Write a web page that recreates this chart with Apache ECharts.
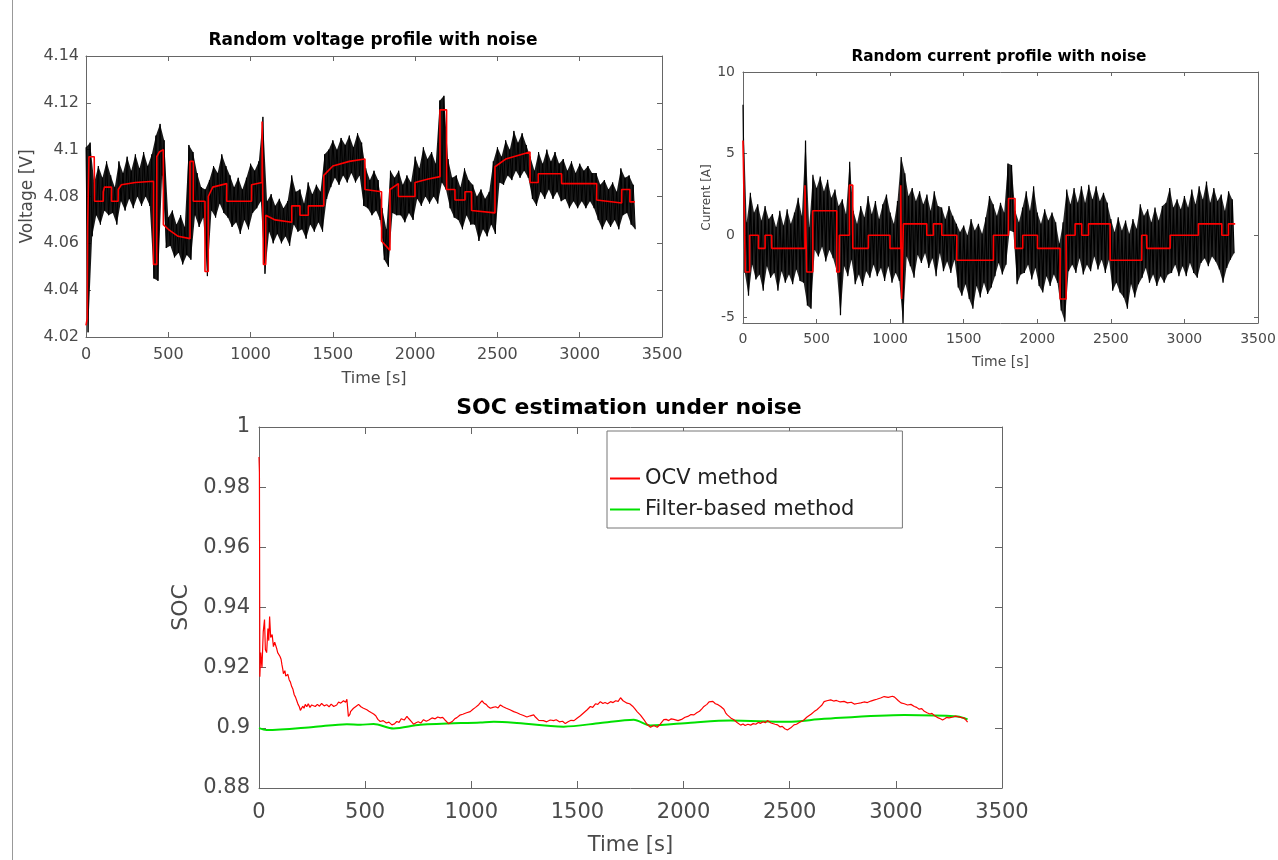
<!DOCTYPE html>
<html>
<head>
<meta charset="utf-8">
<title>Noise profiles and SOC estimation</title>
<script src="https://cdn.jsdelivr.net/npm/echarts@6/dist/echarts.min.js"></script>
<style>
    html, body { margin: 0; padding: 0; background: #fff; }
    #chart { width: 1278px; height: 860px; }
</style>
</head>
<body>
<div id="chart"></div>
<script>
    // noise envelopes are read every 25 s (upper / lower edge of the black trace)
    const noiseStep = 25;

    const voltHi = [
        4.101, 4.103, 4.086, 4.093, 4.088, 4.095, 4.089, 4.084, 4.095, 4.090,
        4.097, 4.091, 4.098, 4.092, 4.099, 4.093, 4.098, 4.106, 4.111, 4.104,
        4.071, 4.074, 4.068, 4.072, 4.067, 4.102, 4.099, 4.090, 4.084, 4.083,
        4.087, 4.093, 4.090, 4.098, 4.093, 4.089, 4.084, 4.088, 4.083, 4.088,
        4.094, 4.091, 4.095, 4.114, 4.078, 4.081, 4.076, 4.079, 4.075, 4.078,
        4.089, 4.082, 4.083, 4.077, 4.086, 4.081, 4.085, 4.082, 4.098, 4.100,
        4.104, 4.100, 4.105, 4.102, 4.106, 4.101, 4.107, 4.103, 4.092, 4.087,
        4.091, 4.087, 4.075, 4.066, 4.091, 4.088, 4.091, 4.085, 4.089, 4.086,
        4.097, 4.092, 4.101, 4.096, 4.099, 4.094, 4.121, 4.123, 4.096, 4.088,
        4.089, 4.084, 4.092, 4.087, 4.085, 4.080, 4.083, 4.079, 4.082, 4.095,
        4.101, 4.097, 4.104, 4.100, 4.108, 4.103, 4.107, 4.102, 4.097, 4.091,
        4.099, 4.094, 4.100, 4.095, 4.099, 4.094, 4.096, 4.091, 4.095, 4.090,
        4.094, 4.091, 4.093, 4.090, 4.090, 4.085, 4.087, 4.083, 4.086, 4.082,
        4.092, 4.088, 4.089, 4.085
    ];
    const voltLo = [
        4.022, 4.063, 4.072, 4.068, 4.074, 4.072, 4.073, 4.068, 4.078, 4.074,
        4.079, 4.075, 4.080, 4.076, 4.080, 4.076, 4.045, 4.044, 4.089, 4.058,
        4.059, 4.054, 4.056, 4.051, 4.055, 4.053, 4.072, 4.067, 4.071, 4.046,
        4.074, 4.071, 4.077, 4.073, 4.071, 4.067, 4.069, 4.064, 4.070, 4.066,
        4.073, 4.075, 4.078, 4.047, 4.065, 4.060, 4.064, 4.060, 4.063, 4.059,
        4.068, 4.065, 4.066, 4.062, 4.068, 4.065, 4.069, 4.065, 4.079, 4.084,
        4.088, 4.085, 4.089, 4.086, 4.090, 4.086, 4.089, 4.076, 4.075, 4.072,
        4.074, 4.070, 4.053, 4.050, 4.073, 4.072, 4.072, 4.069, 4.073, 4.070,
        4.079, 4.076, 4.080, 4.077, 4.080, 4.077, 4.086, 4.083, 4.075, 4.071,
        4.070, 4.066, 4.072, 4.068, 4.068, 4.061, 4.066, 4.063, 4.068, 4.064,
        4.086, 4.085, 4.089, 4.087, 4.091, 4.088, 4.091, 4.088, 4.079, 4.076,
        4.082, 4.079, 4.083, 4.079, 4.082, 4.078, 4.079, 4.075, 4.078, 4.075,
        4.078, 4.075, 4.078, 4.075, 4.070, 4.066, 4.070, 4.067, 4.070, 4.066,
        4.072, 4.073, 4.068, 4.066
    ];

    // smoothed (red) voltage, [time s, V]
    const voltRed = [
        [0, 4.025], [8, 4.028], [10, 4.067], [18, 4.067], [18, 4.097], [50, 4.097],
        [52, 4.078], [105, 4.078], [105, 4.082], [112, 4.084], [155, 4.084], [155, 4.078],
        [195, 4.078], [196, 4.083], [215, 4.085], [300, 4.086], [410, 4.0865], [410, 4.051],
        [430, 4.051], [430, 4.097], [445, 4.099], [470, 4.100], [470, 4.068], [500, 4.066],
        [560, 4.063], [632, 4.062], [632, 4.095], [652, 4.095], [652, 4.078], [723, 4.078],
        [723, 4.048], [743, 4.048], [743, 4.080], [770, 4.084], [855, 4.0855], [855, 4.078],
        [1006, 4.078], [1006, 4.085], [1070, 4.086], [1070, 4.112], [1078, 4.112], [1078, 4.051],
        [1092, 4.051], [1092, 4.072], [1150, 4.070], [1250, 4.069], [1250, 4.076], [1300, 4.076],
        [1300, 4.072], [1351, 4.072], [1351, 4.076], [1445, 4.076], [1445, 4.089], [1500, 4.093],
        [1600, 4.095], [1695, 4.096], [1695, 4.083], [1796, 4.082], [1796, 4.061], [1847, 4.057],
        [1847, 4.083], [1898, 4.0855], [1898, 4.080], [1999, 4.080], [1999, 4.086], [2080, 4.0875],
        [2151, 4.0885], [2151, 4.117], [2191, 4.117], [2191, 4.083], [2242, 4.083], [2242, 4.0785],
        [2303, 4.0785], [2303, 4.082], [2343, 4.082], [2343, 4.074], [2485, 4.073], [2485, 4.0927],
        [2550, 4.096], [2698, 4.099], [2698, 4.086], [2748, 4.086], [2748, 4.0897], [2890, 4.0897],
        [2890, 4.0855], [3103, 4.0855], [3103, 4.0785], [3255, 4.0772], [3255, 4.083], [3305, 4.083],
        [3305, 4.0777], [3335, 4.0777]
    ];

    const curHi = [
        8.0, 0.8, 2.6, 1.4, 1.9, 0.9, 1.8, 1.0, 1.3, 0.5,
        1.5, 0.6, 1.6, 0.7, 1.4, 2.3, 1.2, 5.8, 0.5, 3.7,
        2.9, 3.6, 2.7, 3.4, 2.3, 2.8, 1.8, 2.2, 1.3, 4.5,
        1.5, 0.7, 1.8, 1.1, 2.4, 1.3, 2.1, 1.0, 1.9, 2.5,
        1.4, 0.7, 2.1, 4.8, 3.8, 2.4, 2.9, 2.1, 2.7, 1.9,
        2.5, 1.5, 2.7, 1.8, 1.7, 1.0, 1.8, 1.2, 0.7, 0.2,
        0.6, 0.0, 1.0, 0.3, 0.7, 0.1, 1.1, 2.4, 1.9, 1.2,
        2.0, 1.4, 4.4, 4.3, 1.5, 0.8, 1.7, 2.7, 1.5, 3.0,
        1.4, 0.7, 1.6, 0.9, 1.4, 0.8, -0.5, 0.8, 2.8, 1.9,
        2.9, 2.0, 3.0, 2.0, 3.1, 2.2, 3.0, 2.1, 2.6, 2.0,
        1.0, 0.2, 1.1, 0.3, 0.9, 0.1, 1.0, 0.4, 1.9, 1.2,
        1.6, 0.8, 1.7, 0.9, 1.8, 2.0, 2.9, 1.7, 2.2, 1.6,
        2.4, 1.7, 2.8, 1.9, 3.0, 2.2, 3.3, 2.0, 2.9, 2.1,
        2.5, 1.5, 2.7, 2.2
    ];
    const curLo = [
        -2.3, -3.7, -1.8, -2.7, -2.4, -3.4, -1.9, -2.6, -2.3, -3.4,
        -2.2, -2.9, -2.4, -3.0, -2.1, -2.8, -2.9, -4.3, -4.5, -0.9,
        -1.3, -0.7, -1.6, -0.9, -1.4, -2.2, -4.9, -1.9, -2.5, -1.5,
        -3.0, -2.4, -3.1, -2.2, -2.6, -1.8, -2.5, -2.0, -2.8, -1.9,
        -2.9, -2.3, -2.8, -5.4, -1.3, -1.9, -2.6, -1.2, -1.7, -1.1,
        -2.0, -1.4, -2.5, -1.1, -2.2, -1.6, -2.3, -1.5, -3.2, -3.7,
        -3.0, -3.9, -4.5, -3.1, -3.8, -2.9, -3.6, -3.2, -2.5, -1.7,
        -2.4, -1.8, 0.3, 0.2, -3.0, -2.4, -2.3, -1.8, -2.7, -2.0,
        -3.1, -3.5, -2.5, -3.1, -2.4, -2.9, -4.6, -5.3, -2.2, -1.8,
        -2.3, -1.4, -2.4, -1.8, -2.2, -1.3, -2.1, -1.5, -2.3, -1.5,
        -3.4, -2.9, -3.5, -3.8, -4.5, -3.0, -3.8, -3.0, -2.6, -2.0,
        -2.9, -2.4, -3.1, -2.5, -2.9, -2.4, -2.3, -1.8, -2.5, -1.9,
        -2.5, -1.7, -2.3, -2.6, -1.7, -1.4, -1.9, -1.3, -1.6, -2.1,
        -2.9, -2.0, -1.5, -1.1
    ];

    // current profile (red), [start time s, A] held until the next step
    const curSteps = [
        [0, 5.8], [10, 0.7], [16, -2.25], [45, 0], [105, -0.8], [150, 0], [195, -0.8],
        [421, 3.07], [433, -2.25], [474, 1.5], [637, -2.25], [655, 0], [723, 3.07], [746, -0.8],
        [852, 0], [999, -0.8], [1072, 3.07], [1078, -3.9], [1090, 0.7], [1249, 0], [1294, 0.7],
        [1351, 0], [1453, -1.53], [1702, 0], [1804, 2.25], [1849, -0.8], [1901, 0], [2001, -0.8],
        [2155, -3.9], [2196, 0], [2257, 0.7], [2302, 0], [2348, 0.7], [2495, -1.53], [2710, 0],
        [2744, -0.8], [2903, 0], [3095, 0.7], [3254, 0], [3299, 0.7], [3345, 0.7]
    ];

    const socOcv = [
        [0, 0.990], [2, 0.985], [4, 0.917], [8, 0.925], [14, 0.920], [20, 0.932], [26, 0.936],
        [30, 0.926], [36, 0.925], [42, 0.933], [46, 0.929], [50, 0.937], [55, 0.930], [62, 0.931],
        [68, 0.927], [74, 0.9285], [78, 0.928], [84, 0.9262], [88, 0.925], [94, 0.9255], [99, 0.9237],
        [104, 0.9228], [108, 0.921], [112, 0.9195], [115, 0.918], [122, 0.919], [126, 0.9172],
        [130, 0.917], [136, 0.9178], [142, 0.916], [148, 0.9152], [154, 0.9137], [160, 0.9128],
        [166, 0.911], [172, 0.9102], [178, 0.909], [184, 0.9078], [190, 0.907], [195, 0.9058],
        [201, 0.906], [206, 0.9072], [212, 0.9065], [218, 0.9078], [225, 0.9070], [232, 0.9080],
        [240, 0.9068], [248, 0.9076], [256, 0.9080], [265, 0.9071], [275, 0.9078], [285, 0.9072],
        [295, 0.9081], [307, 0.9073], [319, 0.9077], [330, 0.9070], [340, 0.9079], [352, 0.9071],
        [366, 0.9076], [375, 0.9086], [385, 0.9082], [398, 0.9090], [408, 0.9085], [414, 0.9095],
        [421, 0.9038], [428, 0.9045], [432, 0.9055], [438, 0.9052], [445, 0.9065], [452, 0.9060],
        [458, 0.9072], [464, 0.9068], [469, 0.9078], [480, 0.9070], [490, 0.9066], [499, 0.9068],
        [508, 0.9060], [518, 0.9055], [530, 0.9050], [540, 0.9046], [550, 0.9040], [560, 0.9028],
        [571, 0.9021], [585, 0.9024], [600, 0.9016], [612, 0.9019], [626, 0.9010], [638, 0.9013],
        [649, 0.9021], [660, 0.9018], [670, 0.9030], [684, 0.9026], [697, 0.9038], [705, 0.9031],
        [712, 0.9025], [720, 0.9019], [728, 0.9012], [740, 0.9017], [750, 0.9020], [762, 0.9016],
        [775, 0.9027], [788, 0.9022], [800, 0.9026], [815, 0.9033], [830, 0.9030], [842, 0.9036],
        [854, 0.9033], [865, 0.9035], [875, 0.9027], [884, 0.9022], [893, 0.9014], [902, 0.9018],
        [912, 0.9022], [922, 0.9030], [932, 0.9034], [946, 0.9042], [960, 0.9045], [978, 0.9050],
        [995, 0.9054], [1008, 0.9062], [1020, 0.9068], [1035, 0.9077], [1050, 0.9090], [1060, 0.9082],
        [1070, 0.9078], [1080, 0.9070], [1090, 0.9065], [1102, 0.9068], [1115, 0.9070],
        [1126, 0.9066], [1137, 0.9076], [1150, 0.9070], [1165, 0.9065], [1182, 0.9060],
        [1200, 0.9054], [1215, 0.9050], [1230, 0.9045], [1246, 0.9041], [1262, 0.9036],
        [1278, 0.9040], [1294, 0.9043], [1302, 0.9036], [1310, 0.9030], [1318, 0.9025],
        [1325, 0.9021], [1340, 0.9024], [1355, 0.9020], [1372, 0.9026], [1388, 0.9024],
        [1400, 0.9027], [1415, 0.9020], [1430, 0.9022], [1443, 0.9014], [1456, 0.9020],
        [1470, 0.9025], [1484, 0.9024], [1498, 0.9032], [1514, 0.9040], [1530, 0.9050],
        [1546, 0.9060], [1561, 0.9071], [1572, 0.9068], [1585, 0.9080], [1596, 0.9078],
        [1608, 0.9087], [1620, 0.9081], [1630, 0.9084], [1642, 0.9080], [1656, 0.9087],
        [1668, 0.9084], [1680, 0.9090], [1692, 0.9088], [1703, 0.9100], [1715, 0.9090],
        [1734, 0.9082], [1746, 0.9080], [1760, 0.9072], [1770, 0.9064], [1781, 0.9054],
        [1797, 0.9042], [1813, 0.9027], [1828, 0.9012], [1844, 0.9002], [1860, 0.9008],
        [1876, 0.9002], [1890, 0.9012], [1907, 0.9027], [1918, 0.9028], [1930, 0.9024],
        [1942, 0.9030], [1954, 0.9028], [1974, 0.9024], [1994, 0.9029], [2007, 0.9035],
        [2020, 0.9038], [2035, 0.9044], [2049, 0.9043], [2062, 0.9050], [2075, 0.9055],
        [2086, 0.9063], [2096, 0.9071], [2110, 0.9078], [2120, 0.9086], [2127, 0.9082],
        [2138, 0.9088], [2150, 0.9080], [2162, 0.9077], [2175, 0.9071], [2190, 0.9062],
        [2198, 0.9050], [2206, 0.9043], [2222, 0.9033], [2237, 0.9027], [2252, 0.9018],
        [2269, 0.9009], [2280, 0.9013], [2290, 0.9008], [2303, 0.9012], [2316, 0.9009],
        [2328, 0.9014], [2340, 0.9012], [2352, 0.9018], [2363, 0.9015], [2375, 0.9020],
        [2385, 0.9017], [2395, 0.9024], [2403, 0.9021], [2412, 0.9016], [2420, 0.9018],
        [2431, 0.9012], [2442, 0.9010], [2455, 0.9003], [2465, 0.9005], [2477, 0.8997],
        [2489, 0.8993], [2497, 0.8996], [2505, 0.9000], [2512, 0.9004], [2520, 0.9010],
        [2532, 0.9012], [2545, 0.9018], [2556, 0.9022], [2568, 0.9027], [2580, 0.9035],
        [2590, 0.9040], [2602, 0.9046], [2615, 0.9054], [2628, 0.9060], [2640, 0.9068],
        [2652, 0.9076], [2662, 0.9087], [2675, 0.9090], [2693, 0.9093], [2707, 0.9089],
        [2720, 0.9091], [2738, 0.9086], [2756, 0.9088], [2772, 0.9083], [2790, 0.9085],
        [2804, 0.9079], [2819, 0.9081], [2835, 0.9083], [2850, 0.9086], [2866, 0.9084],
        [2882, 0.9089], [2896, 0.9092], [2910, 0.9095], [2928, 0.9099], [2945, 0.9104],
        [2964, 0.9101], [2984, 0.9105], [2994, 0.9102], [3000, 0.9098], [3012, 0.9090],
        [3024, 0.9083], [3040, 0.9080], [3055, 0.9076], [3071, 0.9078], [3087, 0.9071],
        [3098, 0.9068], [3110, 0.9062], [3122, 0.9064], [3134, 0.9055], [3147, 0.9050],
        [3160, 0.9046], [3170, 0.9048], [3181, 0.9041], [3190, 0.9038], [3200, 0.9033],
        [3210, 0.9030], [3220, 0.9026], [3230, 0.9030], [3240, 0.9035], [3250, 0.9033],
        [3259, 0.9038], [3270, 0.9036], [3280, 0.9039], [3291, 0.9037], [3300, 0.9038],
        [3310, 0.9034], [3322, 0.9032], [3330, 0.9028], [3338, 0.9019]
    ];
    const socFilter = [
        [0, 0.8999], [36, 0.8993], [256, 0.9003], [414, 0.9012], [477, 0.9010], [540, 0.9013],
        [634, 0.8998], [760, 0.9010], [1043, 0.9018], [1106, 0.9020], [1200, 0.9017], [1435, 0.9004],
        [1608, 0.9016], [1765, 0.9027], [1844, 0.9008], [2033, 0.9017], [2222, 0.9024], [2489, 0.9020],
        [2662, 0.9030], [3040, 0.9043], [3291, 0.9038], [3338, 0.9028]
    ];

    const currentTicks = [-5, 0, 5, 10];

    const FONT = 'DejaVu Sans';
    const AXIS_COLOR = '#666';
    const LABEL_COLOR = '#4a4a4a';

    // noise trace: upper points at t, lower points half a step later
    function zigzag(hi, lo) {
        const out = [];
        hi.forEach((h, i) => {
            out.push([i * noiseStep, h]);
            out.push([i * noiseStep + noiseStep / 2, lo[i]]);
        });
        return out;
    }

    // filled band between the two envelopes, drawn once through the axis scale
    function noiseBand(hi, lo, color, opacity) {
        return function (params, api) {
            if (params.dataIndex !== 0) {
                return null;
            }
            const top = hi.map((h, i) => api.coord([i * noiseStep, h]));
            const bottom = lo.map((l, i) => api.coord([i * noiseStep + noiseStep / 2, l])).reverse();
            return {
                type: 'polygon',
                shape: {points: top.concat(bottom)},
                style: {fill: color, opacity: opacity}
            };
        };
    }

    const timeLabel = v => String(v);

    // one framed box: labelled bottom/left axes plus bare top/right axes with inward ticks
    function frame(gridIndex, x, y) {
        const line = {show: true, onZero: false, lineStyle: {color: AXIS_COLOR, width: 1}};
        const tick = {show: true, inside: true, length: x.tickLen, lineStyle: {color: AXIS_COLOR}};
        const xBase = {
            type: 'value', gridIndex, min: 0, max: 3500, interval: 500,
            axisLine: line, splitLine: {show: false}
        };
        const yBase = {
            type: 'value', gridIndex, min: y.min, max: y.max, interval: y.interval,
            axisLine: line, splitLine: {show: false}
        };
        const yTick = Object.assign({}, tick, y.ticks ? {customValues: y.ticks} : {});
        const yLabel = {
            color: LABEL_COLOR, fontFamily: FONT, fontSize: y.fontSize, margin: y.margin
        };
        if (y.ticks) {
            yLabel.customValues = y.ticks;
        }
        return {
            x: [
                Object.assign({}, xBase, {
                    position: 'bottom', axisTick: tick,
                    axisLabel: {color: LABEL_COLOR, fontFamily: FONT, fontSize: x.fontSize, margin: x.margin, formatter: timeLabel},
                    name: 'Time [s]', nameLocation: 'middle', nameGap: x.nameGap,
                    nameTextStyle: {color: LABEL_COLOR, fontFamily: FONT, fontSize: x.nameSize}
                }),
                Object.assign({}, xBase, {position: 'top', axisTick: tick, axisLabel: {show: false}})
            ],
            y: [
                Object.assign({}, yBase, {
                    position: 'left', axisTick: yTick, axisLabel: yLabel,
                    name: y.name, nameLocation: 'middle', nameGap: y.nameGap,
                    nameTextStyle: {color: LABEL_COLOR, fontFamily: FONT, fontSize: y.nameSize}
                }),
                Object.assign({}, yBase, {position: 'right', axisTick: yTick, axisLabel: {show: false}})
            ]
        };
    }

    const fVolt = frame(0,
        {tickLen: 5, fontSize: 16, margin: 10, nameGap: 34, nameSize: 16},
        {min: 4.02, max: 4.14, interval: 0.02, fontSize: 16, margin: 7, name: 'Voltage [V]', nameGap: 50, nameSize: 17});
    const fCur = frame(1,
        {tickLen: 4, fontSize: 14, margin: 9, nameGap: 32, nameSize: 14},
        {min: -5.37, max: 10, ticks: currentTicks, fontSize: 14, margin: 8, name: 'Current [A]', nameGap: 27, nameSize: 12});
    const fSoc = frame(2,
        {tickLen: 7, fontSize: 21, margin: 14, nameGap: 47, nameSize: 21},
        {min: 0.88, max: 1, interval: 0.02, fontSize: 21, margin: 9, name: 'SOC', nameGap: 62, nameSize: 22});

    const titleStyle = (size) => ({color: '#000', fontFamily: FONT, fontWeight: 'bold', fontSize: size});

    const option = {
        animation: false,
        backgroundColor: '#fff',
        title: [
            {text: 'Random voltage profile with noise', left: 373, top: 32, textAlign: 'center', padding: 0, textStyle: titleStyle(17)},
            {text: 'Random current profile with noise', left: 999, top: 50, textAlign: 'center', padding: 0, textStyle: titleStyle(15.3)},
            {text: 'SOC estimation under noise', left: 629, top: 397, textAlign: 'center', padding: 0, textStyle: titleStyle(22)}
        ],
        grid: [
            {left: 86, top: 56, width: 576, height: 281, outerBoundsMode: 'none'},
            {left: 743, top: 72, width: 515, height: 251, outerBoundsMode: 'none'},
            {left: 259, top: 427, width: 743, height: 361, outerBoundsMode: 'none'}
        ],
        xAxis: [].concat(fVolt.x, fCur.x, fSoc.x),
        yAxis: [].concat(fVolt.y, fCur.y, fSoc.y),
        legend: {
            orient: 'vertical',
            left: 607,
            top: 431,
            padding: [37, 48, 8, 3],
            itemGap: 10,
            itemWidth: 30,
            itemHeight: 2,
            icon: 'rect',
            backgroundColor: '#fff',
            borderColor: '#777',
            borderWidth: 1,
            borderRadius: 0,
            selectedMode: false,
            textStyle: {color: '#222', fontFamily: FONT, fontSize: 21},
            data: ['OCV method', 'Filter-based method']
        },
        graphic: [
            {type: 'line', shape: {x1: 12.5, y1: 0, x2: 12.5, y2: 860}, style: {stroke: '#999', lineWidth: 1}}
        ],
        series: [
            {
                type: 'custom', name: 'voltage noise band', xAxisIndex: 0, yAxisIndex: 0,
                data: [[0, voltHi[0]]], renderItem: noiseBand(voltHi, voltLo, '#000', 0.9),
                silent: true, z: 1
            },
            {
                type: 'line', name: 'voltage noise', xAxisIndex: 0, yAxisIndex: 0,
                data: zigzag(voltHi, voltLo), showSymbol: false, silent: true,
                lineStyle: {color: '#000', width: 1}, z: 2
            },
            {
                type: 'line', name: 'voltage', xAxisIndex: 0, yAxisIndex: 0,
                data: voltRed, showSymbol: false, silent: true,
                lineStyle: {color: '#ff0000', width: 1.6}, z: 3
            },
            {
                type: 'custom', name: 'current noise band', xAxisIndex: 2, yAxisIndex: 2,
                data: [[0, curHi[0]]], renderItem: noiseBand(curHi, curLo, '#000', 0.85),
                silent: true, z: 1
            },
            {
                type: 'line', name: 'current noise', xAxisIndex: 2, yAxisIndex: 2,
                data: zigzag(curHi, curLo), showSymbol: false, silent: true,
                lineStyle: {color: '#000', width: 1.2}, z: 2
            },
            {
                type: 'line', name: 'current', xAxisIndex: 2, yAxisIndex: 2,
                data: curSteps, step: 'end', showSymbol: false, silent: true,
                lineStyle: {color: '#ff0000', width: 1.6}, z: 3
            },
            {
                type: 'line', name: 'OCV method', xAxisIndex: 4, yAxisIndex: 4,
                data: socOcv, showSymbol: false, color: '#ff0000',
                lineStyle: {color: '#ff0000', width: 1.2}, z: 3
            },
            {
                type: 'line', name: 'Filter-based method', xAxisIndex: 4, yAxisIndex: 4,
                data: socFilter, showSymbol: false, color: '#00e000', smooth: 0.3,
                lineStyle: {color: '#00e000', width: 2}, z: 2
            }
        ]
    };

    const chart = echarts.init(document.getElementById('chart'), null, {renderer: 'canvas'});
    chart.setOption(option);
</script>
</body>
</html>
